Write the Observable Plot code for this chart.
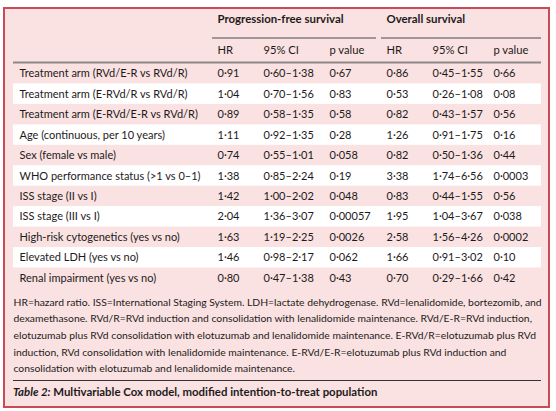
<!DOCTYPE html>
<html><head><meta charset="utf-8">
<script src="https://cdn.jsdelivr.net/npm/d3@7"></script>
<script src="https://cdn.jsdelivr.net/npm/@observablehq/plot@0.6"></script>
<style>
body{margin:0;background:#fff;}
#wrap{position:relative;width:556px;height:411px;overflow:hidden;font-family:Lato,sans-serif;}
#box{position:absolute;left:3px;top:7px;width:547px;height:401px;box-sizing:border-box;border:2px solid #c94b57;background:#f9e2e1;}
#chart{position:absolute;left:0;top:0;}
#title{position:absolute;left:13px;top:380px;width:528px;border-top:1px solid #333;padding-top:4px;font-size:11.4px;font-weight:bold;color:#1e1a1b;line-height:14px;}
</style></head><body>
<div id="wrap"><div id="box"></div><div id="chart"></div><div id="title"><i>Table 2:</i> Multivariable Cox model, modified intention-to-treat population</div></div>
<script>
// ---- data ----
const rowLabels = [
  "Treatment arm (RVd/E-R vs RVd/R)",
  "Treatment arm (E-RVd/R vs RVd/R)",
  "Treatment arm (E-RVd/E-R vs RVd/R)",
  "Age (continuous, per 10 years)",
  "Sex (female vs male)",
  "WHO performance status (>1 vs 0–1)",
  "ISS stage (II vs I)",
  "ISS stage (III vs I)",
  "High-risk cytogenetics (yes vs no)",
  "Elevated LDH (yes vs no)",
  "Renal impairment (yes vs no)"
];
const pfsHR = [0.91, 1.04, 0.89, 1.11, 0.74, 1.38, 1.42, 2.04, 1.63, 1.46, 0.80];
const pfsLo = [0.60, 0.70, 0.58, 0.92, 0.55, 0.85, 1.00, 1.36, 1.19, 0.98, 0.47];
const pfsHi = [1.38, 1.56, 1.35, 1.35, 1.01, 2.24, 2.02, 3.07, 2.25, 2.17, 1.38];
const pfsP  = ["0.67", "0.83", "0.58", "0.28", "0.058", "0.19", "0.048", "0.00057", "0.0026", "0.062", "0.43"];
const osHR  = [0.86, 0.53, 0.82, 1.26, 0.82, 3.38, 0.83, 1.95, 2.58, 1.66, 0.70];
const osLo  = [0.45, 0.26, 0.43, 0.91, 0.50, 1.74, 0.44, 1.04, 1.56, 0.91, 0.29];
const osHi  = [1.55, 1.08, 1.57, 1.75, 1.36, 6.56, 1.55, 3.67, 4.26, 3.02, 1.66];
const osP   = ["0.66", "0.08", "0.56", "0.16", "0.44", "0.0003", "0.56", "0.038", "0.0002", "0.10", "0.42"];
const groupHeaders = ["Progression-free survival", "Overall survival"];
const subHeaders = ["HR", "95% CI", "p value", "HR", "95% CI", "p value"];
const footLines = [
  "HR=hazard ratio. ISS=International Staging System. LDH=lactate dehydrogenase. RVd=lenalidomide, bortezomib, and",
  "dexamethasone. RVd/R=RVd induction and consolidation with lenalidomide maintenance. RVd/E-R=RVd induction,",
  "elotuzumab plus RVd consolidation with elotuzumab and lenalidomide maintenance. E-RVd/R=elotuzumab plus RVd",
  "induction, RVd consolidation with lenalidomide maintenance. E-RVd/E-R=elotuzumab plus RVd induction and",
  "consolidation with elotuzumab and lenalidomide maintenance."
];

// ---- layout ----
const W = 556, H = 376;
const colX = [19, 217, 263, 329, 386, 432, 493];
const groupX = [[212, 376], [381, 541]];
const tableX = [13, 541];
const rowTop = 63, rowH = 20.45;
const groupY = 19, groupLineY = 37.5, subY = 50, headLineY = 62;
const footY = 302, footStep = 16.6;
const ink = "#1e1a1b";

const dot = s => String(s).replace(".", "\u00b7");
const f2 = v => dot(v.toFixed(2));

const rows = rowLabels.map((label, i) => ({i, label}));
const cells = [];
rows.forEach(({i, label}) => {
  const vals = [label, f2(pfsHR[i]), f2(pfsLo[i]) + "–" + f2(pfsHi[i]), dot(pfsP[i]),
                f2(osHR[i]), f2(osLo[i]) + "–" + f2(osHi[i]), dot(osP[i])];
  vals.forEach((t, c) => cells.push({i, c, t}));
});
const rowMid = i => rowTop + (i + 0.5) * rowH;

const chart = Plot.plot({
  width: W, height: H,
  margin: 0,
  x: {domain: [0, W], range: [0, W], axis: null},
  y: {domain: [0, H], range: [0, H], axis: null},
  style: {fontFamily: "Lato, sans-serif", background: "transparent", color: ink},
  marks: [
    // alternating white row bands
    Plot.rect(rows.filter(d => d.i % 2 === 1), {
      x1: () => tableX[0], x2: () => tableX[1],
      y1: d => rowTop + d.i * rowH, y2: d => rowTop + (d.i + 1) * rowH,
      fill: "#ffffff"
    }),
    // group headers
    Plot.text(groupHeaders, {
      x: (d, i) => colX[1 + i * 3], y: () => groupY, text: d => d,
      textAnchor: "start", fontSize: 11.4, fontWeight: "bold", fill: ink
    }),
    Plot.ruleY(groupHeaders, {
      y: () => groupLineY, x1: (d, i) => groupX[i][0], x2: (d, i) => groupX[i][1],
      stroke: "#4a4a4a", strokeWidth: 1
    }),
    // sub headers
    Plot.text(subHeaders, {
      x: (d, i) => colX[i + 1], y: () => subY, text: d => d,
      textAnchor: "start", fontSize: 11.2, fill: ink
    }),
    Plot.ruleY([headLineY], {x1: tableX[0], x2: tableX[1], stroke: "#8e8888", strokeWidth: 2}),
    // cells
    Plot.text(cells, {
      x: d => colX[d.c], y: d => rowMid(d.i), text: "t",
      textAnchor: "start", fontSize: 11, fill: ink
    }),
    // footnote
    Plot.text(footLines, {
      x: () => tableX[0], y: (d, i) => footY + i * footStep, text: d => d,
      textAnchor: "start", fontSize: 10.35, fill: ink
    })
  ]
});
document.getElementById("chart").appendChild(chart);
</script>
</body></html>
